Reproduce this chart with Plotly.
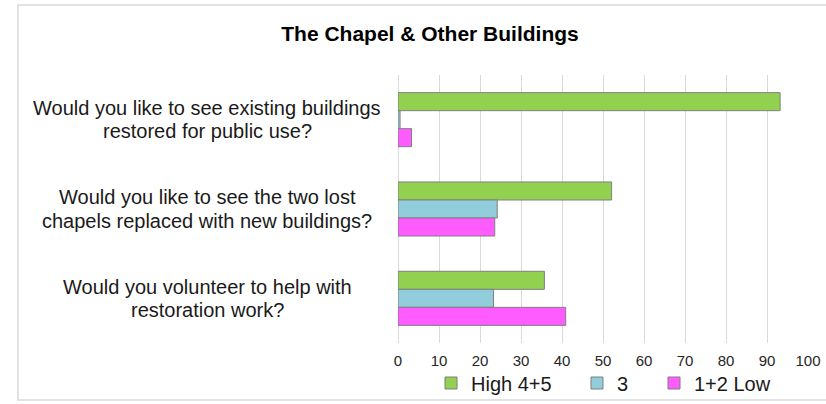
import plotly.graph_objects as go

W, H = 826, 404

categories = [
    "Would you like to see existing buildings<br>restored for public use?",
    "Would you like to see the two lost<br>chapels replaced with new buildings?",
    "Would you volunteer to help with<br>restoration work?",
]
series_names = ["High 4+5", "3", "1+2 Low"]
high_vals = [93.2, 52.1, 35.7]
mid_vals = [0.5, 24.2, 23.3]
low_vals = [3.3, 23.6, 40.9]
x_ticks = [0, 10, 20, 30, 40, 50, 60, 70, 80, 90, 100]

colors = ["#92D050", "#92CDDC", "#FF5CFF"]
series_vals = [high_vals, mid_vals, low_vals]

# layout pixels
L, R, T, B = 398, 18, 75, 61
pw = W - L - R
ph = H - T - B

def px_x(p):
    return (p - L) / pw

def px_y(p):
    return (H - B - p) / ph

fig = go.Figure()
legend_ids = ["legend", "legend2", "legend3"]
for name, vals, col, lg in zip(series_names, series_vals, colors, legend_ids):
    fig.add_trace(go.Bar(
        y=categories, x=vals, name=name, orientation="h",
        marker=dict(color=col, line=dict(color="#7F7F7F", width=1)),
        legend=lg,
    ))

# category labels, centered, two lines each
ann = []
for cat in categories:
    lines = cat.split("<br>")
    n = len(lines)
    for i, ln in enumerate(lines):
        shift = ((n - 1) / 2 - i) * 23.5
        ann.append(dict(
            text=ln, x=px_x(207), xref="paper", y=cat, yref="y",
            xanchor="center", yanchor="middle", yshift=shift, showarrow=False,
            font=dict(family="Liberation Sans, Arial", size=20, color="#1a1a1a"),
        ))

legend_common = dict(
    orientation="h", yanchor="middle", xanchor="left",
    xref="container", yref="container",
    font=dict(family="Liberation Sans, Arial", size=20, color="#1a1a1a"),
    bgcolor="rgba(0,0,0,0)", borderwidth=0, itemclick=False,
    tracegroupgap=0,
)
leg_y = 1 - 383 / H

fig.update_layout(
    width=W, height=H, autosize=False,
    margin=dict(l=L, r=R, t=T, b=B, pad=0, autoexpand=False),
    paper_bgcolor="white", plot_bgcolor="white",
    barmode="group", bargap=0.395, bargroupgap=0,
    font=dict(family="Liberation Sans, Arial"),
    title=dict(
        text="<b>The Chapel & Other Buildings</b>",
        x=430 / W, xref="container", xanchor="center",
        y=1 - 34 / H, yref="container", yanchor="middle",
        font=dict(family="Liberation Sans, Arial", size=21, color="#000000"),
        automargin=False,
    ),
    xaxis=dict(
        range=[0, 100], tickvals=x_ticks, showgrid=True,
        gridcolor="#D9D9D9", gridwidth=1,
        zeroline=True, zerolinecolor="#D9D9D9", zerolinewidth=1,
        showline=False, ticks="", ticklabelstandoff=7, automargin=False,
        tickfont=dict(family="Liberation Sans, Arial", size=15, color="#262626"),
        fixedrange=True,
    ),
    yaxis=dict(
        autorange="reversed", showticklabels=False, showgrid=False,
        zeroline=False, showline=False, ticks="", fixedrange=True,
        automargin=False,
    ),
    legend=dict(x=431 / W, y=leg_y, **legend_common),
    legend2=dict(x=577 / W, y=leg_y, **legend_common),
    legend3=dict(x=654 / W, y=leg_y, **legend_common),
    annotations=ann,
    shapes=[dict(
        type="rect", xref="paper", yref="paper",
        x0=px_x(18), x1=px_x(840), y0=px_y(400), y1=px_y(5),
        line=dict(color="#D9D9D9", width=1.5), fillcolor="rgba(0,0,0,0)",
        layer="below",
    )],
    showlegend=True,
)

fig.write_html(
    "out.html",
    config={"displayModeBar": False, "responsive": False},
    post_script="document.body.style.margin='0';document.body.style.overflow='hidden';",
)
